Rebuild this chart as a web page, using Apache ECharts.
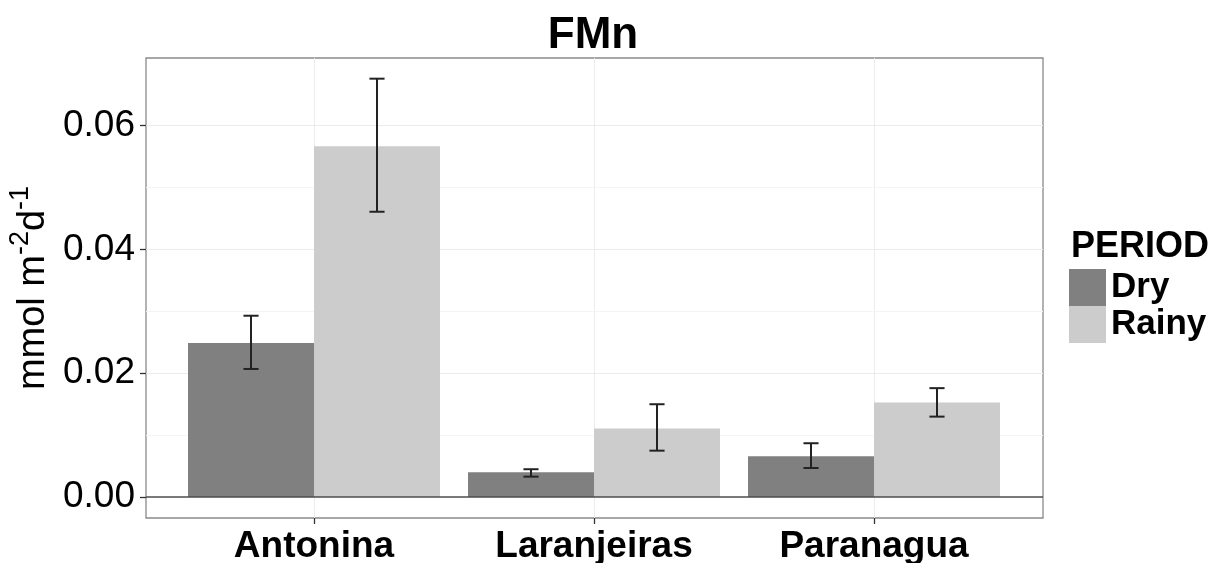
<!DOCTYPE html>
<html><head><meta charset="utf-8">
<script src="https://cdn.jsdelivr.net/npm/echarts@6/dist/echarts.min.js"></script>
<style>html,body{margin:0;padding:0;background:#fff}#c{width:1221px;height:563px}</style>
</head><body><div id="c"></div>
<script>
const categories = ['Antonina', 'Laranjeiras', 'Paranagua'];
const seriesNames = ['Dry', 'Rainy'];
const dryMean = [0.0249, 0.0040, 0.0066];
const dryLow = [0.0207, 0.0033, 0.0047];
const dryHigh = [0.0293, 0.0045, 0.0087];
const rainyMean = [0.0567, 0.0111, 0.0153];
const rainyLow = [0.0461, 0.0075, 0.0130];
const rainyHigh = [0.0676, 0.0150, 0.0176];
const yMajorTicks = [0, 0.02, 0.04, 0.06];
const yMinorTicks = [0.01, 0.03, 0.05];
const yMin = -0.00338, yMax = 0.07094;

const FONT = 'Liberation Sans';
const chart = echarts.init(document.getElementById('c'), null, {renderer: 'canvas'});

const errData = [];
categories.forEach((c, i) => {
  errData.push([i, dryLow[i], dryHigh[i], 0]);
  errData.push([i, rainyLow[i], rainyHigh[i], 1]);
});

const option = {
  backgroundColor: '#ffffff',
  animation: false,
  textStyle: {fontFamily: FONT},
  graphic: [
    {type: 'text', x: 593, y: 36, style: {text: 'FMn', font: 'bold 44px "Liberation Sans"', fill: '#000', align: 'center', verticalAlign: 'middle'}},
    {type: 'text', x: 1071, y: 247, style: {text: 'PERIOD', font: 'bold 36px "Liberation Sans"', fill: '#000', align: 'left', verticalAlign: 'middle'}}
  ],
  legend: {
    data: seriesNames,
    orient: 'vertical',
    left: 1069, top: 269, padding: 0,
    itemWidth: 37, itemHeight: 37, itemGap: 0,
    icon: 'rect',
    textStyle: {fontSize: 35, fontWeight: 'bold', color: '#000', fontFamily: FONT}
  },
  grid: [
    {left: 146, top: 58, width: 897, height: 460, show: true, borderColor: '#8a8a8a', borderWidth: 1.3, backgroundColor: '#fff', outerBoundsMode: 'none', containLabel: false},
    {left: 314, top: 58, width: 560, height: 460, outerBoundsMode: 'none', containLabel: false}
  ],
  xAxis: [
    {gridIndex: 0, type: 'value', min: 0, max: 1, show: false},
    {gridIndex: 1, type: 'category', data: categories, boundaryGap: false,
      axisLine: {show: false, onZero: false},
      axisTick: {show: true, alignWithLabel: true, length: 6, lineStyle: {color: '#333', width: 1.3}},
      axisLabel: {fontSize: 37, fontWeight: 'bold', color: '#000', margin: 10, fontFamily: FONT, hideOverlap: false},
      splitLine: {show: true, lineStyle: {color: '#ececec', width: 1}}
    }
  ],
  yAxis: [
    {gridIndex: 0, type: 'value', min: yMin, max: yMax,
      axisLine: {show: false},
      axisTick: {show: true, customValues: yMajorTicks, length: 6, lineStyle: {color: '#333', width: 1.3}},
      axisLabel: {customValues: yMajorTicks, formatter: v => v.toFixed(2), fontSize: 37, color: '#000', margin: 11, padding: [6, 0, 0, 0], fontFamily: FONT},
      splitLine: {show: false},
      name: '{b|mmol m}{s|-2}{b|d}{s|-1}',
      nameLocation: 'middle', nameRotate: 90, nameGap: 78,
      nameTextStyle: {fontSize: 38, color: '#000', fontFamily: FONT,
        rich: {
          b: {fontSize: 38, color: '#000', fontFamily: FONT, verticalAlign: 'bottom'},
          s: {fontSize: 27, color: '#000', fontFamily: FONT, verticalAlign: 'top', padding: [0, 0, 18, 0]}
        }}
    },
    {gridIndex: 1, type: 'value', min: yMin, max: yMax, show: false}
  ],
  series: [
    {type: 'line', xAxisIndex: 0, yAxisIndex: 0, data: [], z: 0, silent: true,
      markLine: {symbol: 'none', silent: true, z: 0, zlevel: 0, label: {show: false}, animation: false,
        data: yMinorTicks.map(v => ({yAxis: v, lineStyle: {color: '#f4f4f4', width: 1, type: 'solid'}}))
          .concat(yMajorTicks.filter(v => v !== 0).map(v => ({yAxis: v, lineStyle: {color: '#ebebeb', width: 1.2, type: 'solid'}})))
      }
    },
    {name: 'Dry', type: 'bar', xAxisIndex: 1, yAxisIndex: 1, data: dryMean, barWidth: '45%', barGap: '0%', clip: false, z: 3,
      itemStyle: {color: '#808080'}},
    {name: 'Rainy', type: 'bar', xAxisIndex: 1, yAxisIndex: 1, data: rainyMean, barWidth: '45%', barGap: '0%', clip: false, z: 3,
      itemStyle: {color: '#cccccc'}},
    {type: 'line', xAxisIndex: 0, yAxisIndex: 0, data: [], z: 4, silent: true,
      markLine: {symbol: 'none', silent: true, z: 4, label: {show: false}, animation: false,
        data: [{yAxis: 0, lineStyle: {color: '#4d4d4d', width: 1.6, type: 'solid'}}]}
    },
    {type: 'custom', xAxisIndex: 1, yAxisIndex: 1, data: errData, z: 6, silent: true, clip: false,
      encode: {x: 0, y: [1, 2]},
      renderItem: function (params, api) {
        const ci = api.value(0), lo = api.value(1), hi = api.value(2), s = api.value(3);
        const bw = api.size([1, 0])[0];
        const off = (s === 0 ? -0.225 : 0.225) * bw;
        const pHi = api.coord([ci, hi]);
        const pLo = api.coord([ci, lo]);
        const x = pHi[0] + off;
        const cap = bw * 0.027;
        const st = {stroke: '#222', lineWidth: 2};
        return {type: 'group', children: [
          {type: 'line', shape: {x1: x, y1: pHi[1], x2: x, y2: pLo[1]}, style: st},
          {type: 'line', shape: {x1: x - cap, y1: pHi[1], x2: x + cap, y2: pHi[1]}, style: st},
          {type: 'line', shape: {x1: x - cap, y1: pLo[1], x2: x + cap, y2: pLo[1]}, style: st}
        ]};
      }
    }
  ]
};
chart.setOption(option);
</script>
</body></html>
